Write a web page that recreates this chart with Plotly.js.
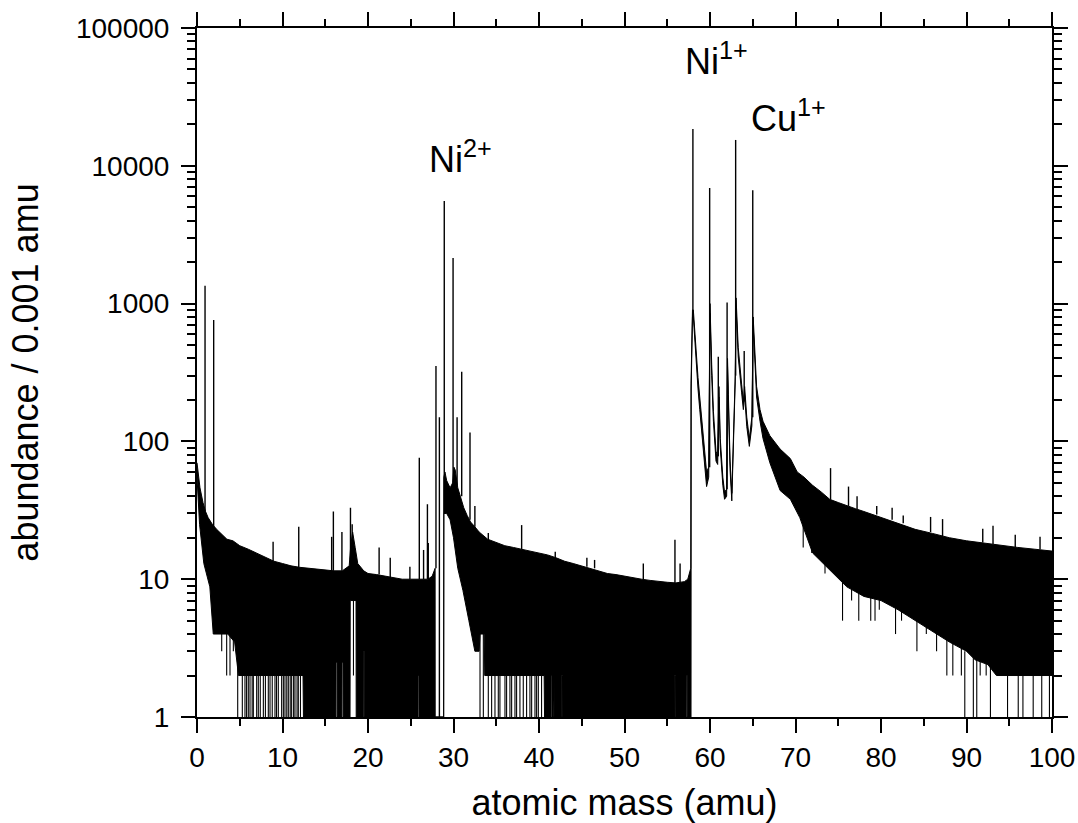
<!DOCTYPE html>
<html>
<head>
<meta charset="utf-8">
<script src="https://cdn.plot.ly/plotly-3.0.1.min.js"></script>
<style>
html, body { margin: 0; padding: 0; background: #ffffff; }
#chart { width: 1078px; height: 823px; }
</style>
</head>
<body>
<div id="chart"></div>
<script>
// ---------- data (mass in amu, abundance per 0.001 amu) ----------

// upper edge of the dense noise band / peak tails
const upX = [0, 0.15, 0.35, 0.7, 1, 1.3, 1.8, 2.3, 3, 3.5,
             4.2, 5, 6, 7, 8, 9, 10, 11, 12, 13,
             14, 15, 16, 17, 17.8, 18, 18.2, 18.5, 18.8, 19.5,
             20, 21, 22, 23, 24, 25, 26, 27, 27.5, 27.85,
             27.86, 28.85, 28.87, 29, 29.2, 29.6, 29.9, 30.05, 30.2, 30.5,
             30.8, 31.2, 31.6, 32, 32.5, 33, 34, 35, 36, 37,
             38, 39, 40, 41, 42, 43, 44, 45, 46, 47,
             48, 49, 50, 51, 52, 53, 54, 55, 56, 57,
             57.4, 57.6, 57.75,
             57.78, 57.95, 58.05, 58.25, 58.6, 58.8, 59, 59.2, 59.4, 59.6,
             59.85, 60, 60.2, 60.4, 60.7, 60.9, 61.05, 61.2, 61.5, 61.7,
             61.95, 62.05, 62.15, 62.35, 62.55, 62.7, 62.95, 63.05, 63.3, 63.7,
             63.9, 64.05, 64.3, 64.6, 64.9, 65.05, 65.45, 65.85, 66.2, 67,
             68.2, 69.4, 70.2, 71, 72, 73, 74, 75, 76, 77,
             78, 79, 80, 82, 84, 86, 88, 90, 92, 94,
             96, 98, 100];
const upY = [70, 58, 46, 36, 31, 28, 25, 23, 21, 19.5,
             19, 17.5, 16.5, 15.5, 14.5, 13.5, 13, 12.5, 12.2, 12,
             11.8, 11.6, 11.5, 11.5, 12.5, 18, 22, 17, 13, 11.5,
             11, 10.8, 10.5, 10.2, 10, 10, 10, 10, 10.5, 12,
             1, 1, 55, 60, 52, 46, 50, 65, 62, 46,
             40, 33, 29, 26, 24, 22, 19.5, 18.5, 17.5, 17,
             16.5, 16, 15.5, 15, 14.3, 13.5, 13, 12.5, 12, 11.5,
             11, 10.8, 10.5, 10.2, 10, 9.8, 9.6, 9.5, 9.4, 9.6,
             10, 11.5, 12,
             265, 900, 900, 560, 290, 210, 150, 118, 80, 60,
             65, 1000, 360, 165, 85, 78, 250, 105, 55, 43,
             45, 400, 220, 72, 42, 95, 300, 1100, 480, 260,
             195, 250, 150, 105, 150, 800, 250, 170, 140, 110,
             88, 75, 60, 55, 48, 43, 38, 36, 34, 32.5,
             31, 29.5, 28, 25.5, 23, 21.5, 20, 19, 18.3, 17.5,
             17, 16.5, 16];

// lower edge of the band (1 = reaches the bottom axis)
const lowX = [0, 0.1, 0.3, 0.8, 1.5, 1.9, 3.6, 4.4, 4.7, 4.85,
              12.4, 12.45, 16.25, 16.26, 16.38, 16.39, 16.95, 16.96, 17.08, 17.09,
              17.9, 17.92, 18.6, 18.62, 19.45, 19.46, 19.56, 19.57, 25.85, 25.86,
              25.96, 25.97, 27.85,
              28.85, 28.87, 29.2, 29.6, 30, 30.5, 31.1, 31.8, 32.5, 33,
              33.1, 33.6, 33.65, 40.6, 40.65, 41.4, 41.41, 41.5, 41.51, 41.72,
              41.73, 41.8, 41.81, 42.65, 42.66, 42.75, 42.76, 55.85, 55.86, 55.97,
              55.98, 57.22, 57.23, 57.33, 57.34, 57.78,
              57.8, 57.95, 58.05, 58.25, 58.6, 58.8, 59, 59.2, 59.4, 59.6,
              59.85, 60, 60.2, 60.4, 60.7, 60.9, 61.05, 61.2, 61.5, 61.7,
              61.95, 62.05, 62.15, 62.35, 62.55, 62.7, 62.95, 63.05, 63.3, 63.7,
              63.9, 64.05, 64.3, 64.6, 64.9, 65.05, 65.45, 65.85, 66.2, 67,
              68.2, 69.4, 70.5, 72, 74, 76, 78, 80, 82, 84,
              86, 88, 90, 91, 92.5, 93.5, 100];
const lowY = [55, 40, 25, 13, 8.8, 4, 4, 3.5, 2.2, 2,
              2, 1, 1, 2.5, 2.5, 1, 1, 2.5, 2.5, 1,
              1, 7, 7, 1, 1, 3, 3, 1, 1, 2,
              2, 1, 1,
              1, 30, 30, 27, 20, 12, 8.3, 5, 3, 3,
              4, 4, 2, 2, 1, 1, 2, 2, 1, 1,
              2, 2, 1, 1, 2, 2, 1, 1, 2, 2,
              1, 1, 2, 2, 1, 1,
              240, 800, 800, 480, 240, 170, 125, 95, 65, 47,
              55, 850, 300, 140, 72, 68, 210, 90, 48, 38,
              40, 350, 190, 62, 37, 82, 270, 950, 410, 225,
              170, 215, 128, 92, 130, 700, 210, 140, 105, 70,
              44, 38, 28, 15.5, 11.7, 8.8, 7.5, 7, 6, 5,
              4.2, 3.5, 3, 2.6, 2.4, 2, 2];

// isolated peaks / spikes rising above the band
const peakX = [0.94, 1.95, 8.9, 11.9, 15.75, 15.95, 16.95, 17.95, 18.15, 21.3,
               22.6, 24.9, 26.0, 26.5, 26.95, 27.05, 27.95, 28.35, 28.92, 29.95,
               30.42, 30.96, 31.93, 32.5, 34.07, 37.97, 41.9, 45.6, 46.5, 52.2,
               55.9, 56.5, 58.0, 59.96, 60.97, 62.0, 63.0, 64.0, 65.0, 74.1,
               76.2, 77.2, 79.5, 81.3, 82.6, 85.8, 87.2, 91.9, 93.1, 95.7,
               98.6];
const peakBase = [30, 24, 13.5, 12, 11.5, 11.5, 11.5, 14, 18, 10.8,
                  10.2, 10, 10, 10, 10, 10, 12, 1, 30, 45,
                  48, 40, 27, 24, 19.5, 16.5, 14.3, 12.3, 12, 10,
                  9.4, 9.4, 800, 65, 78, 45, 300, 195, 150, 38,
                  34, 32, 29.5, 27, 25.5, 22, 20.5, 18.5, 18, 17,
                  16.5];
const peakTop = [1350, 760, 18.7, 24, 20.3, 31, 22, 33, 25, 17,
                 14.3, 12.3, 76, 16.3, 35, 18.3, 352, 150, 5560, 2140,
                 150, 320, 116, 34, 21.6, 24.7, 15.8, 14.3, 13.8, 13,
                 19.3, 13, 18500, 6900, 412, 1020, 15400, 453, 6640, 64,
                 47, 40, 34, 33, 29, 28.3, 27.3, 23.2, 24.4, 21,
                 20.3];

// downward drops below the band (1 = down to the axis)
const dipX = [2.89, 3.47, 3.86, 4.25, 4.76,
              5.3, 5.61, 5.8, 6.0, 6.2, 6.45, 6.59, 6.98, 7.17, 7.4,
              7.76, 8.0, 8.34, 8.54, 8.8, 9.12, 9.3, 9.51, 9.9, 10.1,
              10.29, 10.5, 10.68, 10.9, 11.07, 11.3, 11.46, 11.7, 11.85, 12.1,
              18.3, 33.1, 33.49,
              34.07, 34.46, 34.85, 35.24, 35.43, 36.02, 36.21, 36.6, 36.8, 37.19,
              37.38, 37.77, 38.16, 38.55, 38.94, 39.14, 39.53, 39.72, 39.92, 40.3,
              70.9, 71.9, 73.45, 75.5, 76.56, 77.4, 78.8, 79.3, 79.8, 81.7,
              82.4, 84.2, 85.3, 86.5, 87.7, 88.4, 89.4, 89.8, 90.8, 91.2,
              91.6, 92.3, 92.8, 94.8, 96.05, 96.6, 97.8, 98.8, 99.7];
const dipLow = [3, 2, 2, 3, 1,
                1, 1, 1, 1, 1, 1, 1, 1, 1, 1,
                1, 1, 1, 1, 1, 1, 1, 1, 1, 1,
                1, 1, 1, 1, 1, 1, 1, 1, 1, 1,
                2, 1, 1,
                1, 1, 1, 1, 1, 1, 1, 1, 1, 1,
                1, 1, 1, 1, 1, 1, 1, 1, 1, 1,
                17, 15.5, 11, 5, 7, 5, 5, 5, 6, 4,
                5, 3, 4, 3, 2, 2, 2, 1, 1, 1,
                2, 2, 1, 1, 1, 1, 1, 1, 1];
const dipHigh = [4, 4, 4, 4, 3,
                 2, 2, 2, 2, 2, 2, 2, 2, 2, 2,
                 2, 2, 2, 2, 2, 2, 2, 2, 2, 2,
                 2, 2, 2, 2, 2, 2, 2, 2, 2, 2,
                 7, 4, 4,
                 2, 2, 2, 2, 2, 2, 2, 2, 2, 2,
                 2, 2, 2, 2, 2, 2, 2, 2, 2, 2,
                 28, 18, 14, 10, 9, 8.2, 7.6, 7.3, 7.1, 6.2,
                 6, 5, 4.7, 4.2, 3.8, 3.5, 3.2, 3, 2.7, 2.6,
                 2.6, 2.5, 2.4, 2, 2, 2, 2, 2, 2];

// axis ticks and labels
const xTickVals = [0, 10, 20, 30, 40, 50, 60, 70, 80, 90, 100];
const yTickVals = [1, 10, 100, 1000, 10000, 100000];
const yTickText = ['1', '10', '100', '1000', '10000', '100000'];

// ion labels
const labelText = ['Ni<sup>2+</sup>', 'Ni<sup>1+</sup>', 'Cu<sup>1+</sup>'];
const labelMass = [30.8, 60.8, 69.2];
const labelAbund = [11500, 60000, 23000];

// ---------- build traces ----------
function segments(xs, y0, y1) {
  const sx = [], sy = [];
  for (let i = 0; i < xs.length; i++) {
    sx.push(xs[i], xs[i], null);
    sy.push(y0[i], y1[i], null);
  }
  return { x: sx, y: sy };
}
const pk = segments(peakX, peakBase, peakTop);
const dp = segments(dipX, dipLow, dipHigh);
const ink = '#000000';

const traces = [
  { x: lowX, y: lowY, type: 'scatter', mode: 'lines',
    line: { color: ink, width: 1 }, hoverinfo: 'skip', showlegend: false },
  { x: upX, y: upY, type: 'scatter', mode: 'lines', fill: 'tonexty', fillcolor: ink,
    line: { color: ink, width: 1 }, hoverinfo: 'skip', showlegend: false },
  { x: pk.x, y: pk.y, type: 'scatter', mode: 'lines', connectgaps: false,
    line: { color: ink, width: 1.4 }, hoverinfo: 'skip', showlegend: false },
  { x: dp.x, y: dp.y, type: 'scatter', mode: 'lines', connectgaps: false,
    line: { color: ink, width: 1.1 }, hoverinfo: 'skip', showlegend: false }
];

const fontFam = 'Arial, "Liberation Sans", sans-serif';
const annotations = labelText.map((t, i) => ({
  text: t, x: labelMass[i], y: Math.log10(labelAbund[i]), xref: 'x', yref: 'y',
  showarrow: false, xanchor: 'center', yanchor: 'middle',
  font: { family: fontFam, size: 36, color: ink }
}));

const layout = {
  width: 1078, height: 823,
  margin: { l: 197, r: 26, t: 28, b: 106 },
  paper_bgcolor: '#ffffff', plot_bgcolor: '#ffffff',
  font: { family: fontFam, color: ink },
  showlegend: false,
  xaxis: {
    range: [0, 100], tickmode: 'array', tickvals: xTickVals,
    ticks: 'outside', ticklen: 14, tickwidth: 2, tickcolor: ink,
    minor: { dtick: 5, ticks: 'outside', ticklen: 7, tickwidth: 2, tickcolor: ink },
    showline: true, linewidth: 2, linecolor: ink, mirror: 'ticks',
    showgrid: false, zeroline: false,
    tickfont: { family: fontFam, size: 28, color: ink },
    title: { text: 'atomic mass (amu)', font: { family: fontFam, size: 36, color: ink }, standoff: 27 }
  },
  yaxis: {
    type: 'log', range: [0, 5], tickmode: 'array', tickvals: yTickVals, ticktext: yTickText,
    ticks: 'outside', ticklen: 14, tickwidth: 2, tickcolor: ink,
    minor: { dtick: 'D1', ticks: 'outside', ticklen: 8, tickwidth: 2, tickcolor: ink },
    showline: true, linewidth: 2, linecolor: ink, mirror: 'ticks',
    showgrid: false, zeroline: false, ticklabelstandoff: 6,
    tickfont: { family: fontFam, size: 28, color: ink },
    title: { text: 'abundance / 0.001 amu', font: { family: fontFam, size: 36, color: ink }, standoff: 26 }
  },
  annotations: annotations
};

Plotly.newPlot('chart', traces, layout, { staticPlot: true, displayModeBar: false });
</script>
</body>
</html>
